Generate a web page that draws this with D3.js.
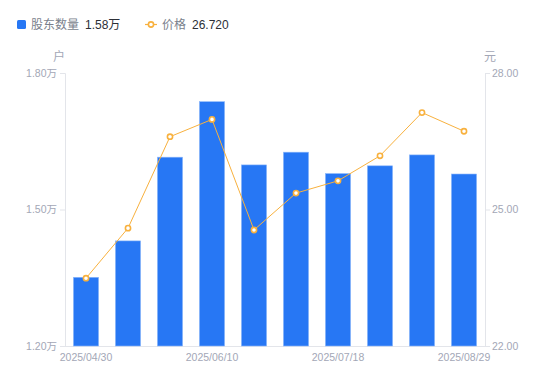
<!DOCTYPE html>
<html><head><meta charset="utf-8">
<script src="https://cdn.jsdelivr.net/npm/d3@7/dist/d3.min.js"></script>
<style>
body{margin:0;background:#fff;font-family:"Liberation Sans","Noto Sans CJK SC",sans-serif;}
</style></head>
<body><svg id="c" width="550" height="381"></svg>
<script>
const dates = ["2025/04/30","2025/05/09","2025/05/20","2025/06/10","2025/06/20","2025/06/30","2025/07/18","2025/07/31","2025/08/15","2025/08/29"];
const holders = [1.351,1.431,1.615,1.737,1.598,1.626,1.579,1.596,1.620,1.578];
const prices = [23.49,24.59,26.60,26.98,24.55,25.36,25.63,26.18,27.13,26.72];
const leftTicks = [1.20,1.50,1.80];
const rightTicks = [22,25,28];
const shownDates = ["2025/04/30","2025/06/10","2025/07/18","2025/08/29"];

const svg = d3.select("#c");
const m = {l:65, r:485, t:73, b:346};
const axisColor = "#e3e5ea", labelColor = "#a3a7b6", barColor = "#2777f4", lineColor = "#f8b13e";
const fontNum = "'Liberation Sans', 'Noto Sans CJK SC', sans-serif";

const x = d3.scaleBand().domain(dates).range([m.l, m.r]).paddingInner(0.4).paddingOuter(0.2);
const yL = d3.scaleLinear().domain([1.2,1.8]).range([m.b, m.t]);
const yR = d3.scaleLinear().domain([22,28]).range([m.b, m.t]);

// axes
const gl = svg.append("g").attr("transform",`translate(${m.l},0)`)
  .call(d3.axisLeft(yL).tickValues(leftTicks).tickSize(5).tickPadding(3).tickFormat(d=>d.toFixed(2)+"万"));
const gr = svg.append("g").attr("transform",`translate(${m.r},0)`)
  .call(d3.axisRight(yR).tickValues(rightTicks).tickSize(5).tickPadding(2).tickFormat(d=>d.toFixed(2)));
const gx = svg.append("g").attr("transform",`translate(0,${m.b})`)
  .call(d3.axisBottom(x).tickValues(shownDates).tickSize(0).tickPadding(8));
[gl,gr,gx].forEach(g=>{
  g.selectAll("path,line").attr("stroke",axisColor);
  g.selectAll("text").attr("fill",labelColor).style("font-size","10.5px").style("font-family",fontNum);
});
gx.select(".domain").attr("d",`M${m.l-5},0.5H${m.r+2}`);

// unit labels
svg.append("text").attr("x",59).attr("y",61).attr("text-anchor","middle").attr("fill",labelColor).style("font-size","12px").style("font-family","'Noto Sans CJK SC'").text("户");
svg.append("text").attr("x",490).attr("y",61).attr("text-anchor","middle").attr("fill",labelColor).style("font-size","12px").style("font-family","'Noto Sans CJK SC'").text("元");

// bars
svg.append("g").selectAll("rect").data(dates).join("rect")
  .attr("x",d=>x(d)).attr("width",x.bandwidth())
  .attr("y",(d,i)=>yL(holders[i])).attr("height",(d,i)=>m.b-yL(holders[i]))
  .attr("fill",barColor).attr("stroke","#8fb9fb").attr("stroke-width",0.6);

// line
const cx = d=>x(d)+x.bandwidth()/2;
svg.append("path").datum(dates)
  .attr("d",d3.line().x(cx).y((d,i)=>yR(prices[i])))
  .attr("fill","none").attr("stroke",lineColor).attr("stroke-width",1);
svg.append("g").selectAll("circle").data(dates).join("circle")
  .attr("cx",cx).attr("cy",(d,i)=>yR(prices[i])).attr("r",2.6)
  .attr("fill","#fff").attr("stroke",lineColor).attr("stroke-width",1.6);

// legend
const lg = svg.append("g").style("font-size","12px");
lg.append("rect").attr("x",17).attr("y",20).attr("width",9).attr("height",9).attr("rx",1.5).attr("fill",barColor);
lg.append("text").attr("x",31).attr("y",29).attr("fill","#7a7f8c").style("font-family","'Noto Sans CJK SC'").text("股东数量");
lg.append("text").attr("x",85).attr("y",29).attr("fill","#2c2f36").style("font-family",fontNum).text(d3.format(".2f")(holders[holders.length-1])+"万");
lg.append("line").attr("x1",145).attr("x2",157).attr("y1",24.5).attr("y2",24.5).attr("stroke",lineColor).attr("stroke-width",1.2);
lg.append("circle").attr("cx",151).attr("cy",24.5).attr("r",2.6).attr("fill","#fff").attr("stroke",lineColor).attr("stroke-width",1.6);
lg.append("text").attr("x",162).attr("y",29).attr("fill","#7a7f8c").style("font-family","'Noto Sans CJK SC'").text("价格");
lg.append("text").attr("x",192).attr("y",29).attr("fill","#2c2f36").style("font-family",fontNum).text(d3.format(".3f")(prices[prices.length-1]));
</script></body></html>
